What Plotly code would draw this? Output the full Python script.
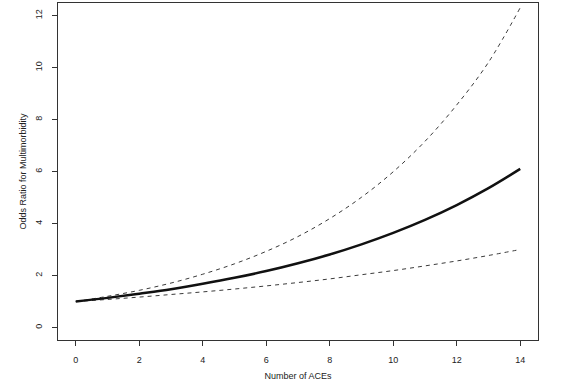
import plotly.graph_objects as go

aces = [0, 1, 2, 3, 4, 5, 6, 7, 8, 9, 10, 11, 12, 13, 14]
odds_ratio = [1.00, 1.14, 1.30, 1.47, 1.68, 1.91, 2.17, 2.47, 2.81, 3.20, 3.64, 4.14, 4.71, 5.36, 6.10]
upper_ci = [1.00, 1.20, 1.43, 1.71, 2.05, 2.45, 2.93, 3.50, 4.19, 5.01, 5.99, 7.16, 8.56, 10.2, 12.3]
lower_ci = [1.00, 1.08, 1.17, 1.27, 1.37, 1.48, 1.60, 1.73, 1.87, 2.03, 2.19, 2.37, 2.56, 2.77, 3.00]
x_ticks = [0, 2, 4, 6, 8, 10, 12, 14]
y_ticks = [0, 2, 4, 6, 8, 10, 12]

fig = go.Figure()
fig.add_trace(go.Scatter(x=aces, y=upper_ci, mode="lines", line=dict(color="#3a3a3a", width=1, dash="4px,4px", shape="spline")))
fig.add_trace(go.Scatter(x=aces, y=lower_ci, mode="lines", line=dict(color="#3a3a3a", width=1, dash="4px,4px", shape="spline")))
fig.add_trace(go.Scatter(x=aces, y=odds_ratio, mode="lines", line=dict(color="#111111", width=2.5, shape="spline")))

font = dict(family="Liberation Sans, Arial, sans-serif", size=9, color="#222222")
fig.update_layout(
    width=566, height=381,
    margin=dict(l=58, r=28, t=3, b=41),
    paper_bgcolor="white", plot_bgcolor="white",
    showlegend=False,
    font=font,
    xaxis=dict(range=[-0.56, 14.56], tickvals=x_ticks, ticks="outside", ticklen=5, tickcolor="#333333",
               showline=True, mirror=True, linecolor="#333333", linewidth=1, showgrid=False, zeroline=False,
               ticklabelstandoff=6, automargin=False,
               title=dict(text="Number of ACEs", standoff=9, font=font)),
    yaxis=dict(range=[-0.48, 12.48], tickvals=y_ticks, ticks="outside", ticklen=5, tickcolor="#333333",
               tickangle=-90, ticklabelstandoff=6, automargin=False,
               showline=True, mirror=True, linecolor="#333333", linewidth=1, showgrid=False, zeroline=False,
               title=dict(text="Odds Ratio for Multimorbidity", standoff=6, font=font)),
)
fig.write_html("out.html", config={"displayModeBar": False},
               post_script="document.body.style.margin='0px';")
